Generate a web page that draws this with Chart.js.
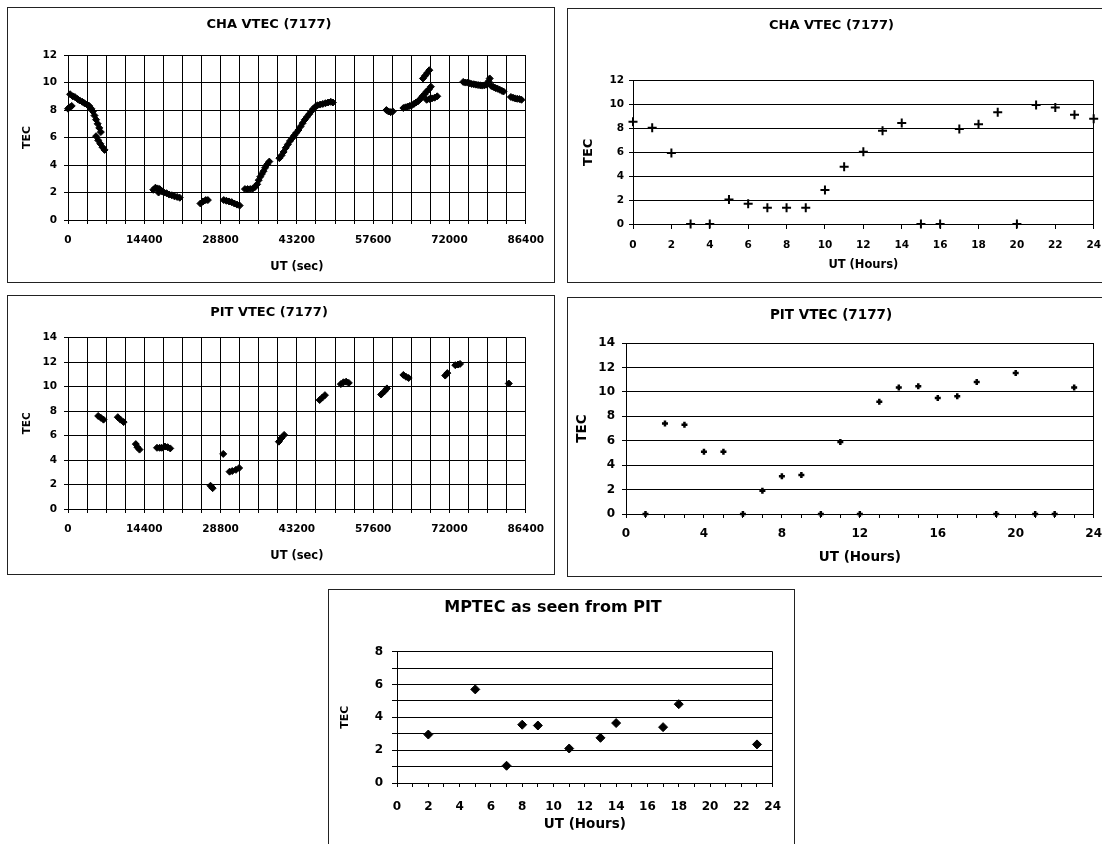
<!DOCTYPE html>
<html>
<head>
<meta charset="utf-8">
<script src="https://cdn.jsdelivr.net/npm/chart.js@4"></script>
<style>
  html, body { margin: 0; padding: 0; background: #fff; }
  body { width: 1102px; height: 844px; overflow: hidden; position: relative; }
  .panel { position: absolute; border: 1px solid #222; box-sizing: border-box; background: #fff; }
  .panel canvas { position: absolute; left: 0; top: 0; }
</style>
</head>
<body>
<div class="panel" style="left:7px;top:7px;width:548px;height:276px"><canvas id="chaSec" width="546" height="274"></canvas></div>
<div class="panel" style="left:567px;top:8px;width:545px;height:275px"><canvas id="chaHour" width="543" height="273"></canvas></div>
<div class="panel" style="left:7px;top:295px;width:548px;height:280px"><canvas id="pitSec" width="546" height="278"></canvas></div>
<div class="panel" style="left:567px;top:297px;width:545px;height:280px"><canvas id="pitHour" width="543" height="278"></canvas></div>
<div class="panel" style="left:328px;top:589px;width:467px;height:270px"><canvas id="mpHour" width="465" height="256"></canvas></div>

<script>
//tick labels
const secTicks = [0, 14400, 28800, 43200, 57600, 72000, 86400];
const hourTicks2 = [0, 2, 4, 6, 8, 10, 12, 14, 16, 18, 20, 22, 24];
const hourTicks4 = [0, 4, 8, 12, 16, 20, 24];
const tecTicks2 = [0, 2, 4, 6, 8, 10, 12, 14];

//CHA VTEC by seconds
const chaSecX = [0, 300, 700, 400, 900, 1300, 1800, 2200, 2700, 3100, 3600, 4000, 4400, 4700, 5000, 5300, 5600, 5900, 6200,
    5300, 5700, 6100, 6500, 6900,
    16100, 16500, 16900, 17100, 17300, 17700, 18100, 18600, 19100, 19600, 20100, 20600, 21100,
    25000, 25500, 26000, 26400,
    29400, 29900, 30400, 30900, 31400, 31900, 32400,
    33400, 33900, 34400, 34900, 35300, 35700, 36000, 36300, 36600, 36900, 37200, 37600, 38000,
    39900, 40300, 40700, 41100, 41500, 41900, 42300, 42700, 43100, 43500, 43900, 44300, 44700, 45100, 45500, 45900,
    46300, 46700, 47100, 47600, 48100, 48600, 49100, 49600, 50000,
    60100, 60500, 60900, 61300,
    63300, 63700, 64100, 64500, 64900, 65300, 65700, 66100, 66500, 66900, 67300, 67700, 68100, 68500,
    67700, 68200, 68700, 69200, 69700, 67000, 67400, 67800, 68200,
    74600, 75000, 75400, 75800, 76200, 76600, 77000, 77400, 77800, 78200, 78600, 79000, 79400, 79600, 79900,
    80300, 80700, 81100, 81500, 81900, 82200,
    83600, 84000, 84400, 84800, 85200, 85600];
const chaSecTec = [8.1, 8.2, 8.3, 9.15, 9.0, 8.95, 8.8, 8.7, 8.6, 8.5, 8.4, 8.3, 8.1, 7.9, 7.6, 7.3, 7.0, 6.7, 6.4,
    6.1, 5.8, 5.55, 5.3, 5.1,
    2.2, 2.35, 2.3, 2.0, 2.25, 2.1, 2.0, 1.95, 1.85, 1.8, 1.72, 1.68, 1.62,
    1.2, 1.35, 1.45, 1.45,
    1.45, 1.4, 1.35, 1.3, 1.2, 1.12, 1.05,
    2.25, 2.25, 2.25, 2.3, 2.4, 2.6, 2.9, 3.15, 3.35, 3.55, 3.8, 4.05, 4.25,
    4.5, 4.7, 4.95, 5.25, 5.5, 5.75, 5.95, 6.15, 6.35, 6.55, 6.8, 7.05, 7.3, 7.5, 7.7, 7.9,
    8.1, 8.25, 8.35, 8.4, 8.45, 8.5, 8.55, 8.6, 8.55,
    8.0, 7.9, 7.85, 7.9,
    8.15, 8.2, 8.25, 8.3, 8.35, 8.45, 8.55, 8.65, 8.8, 9.0, 9.15, 9.35, 9.5, 9.7,
    8.75, 8.8, 8.85, 8.9, 9.0, 10.3, 10.5, 10.7, 10.9,
    10.05, 10.0, 10.0, 9.95, 9.9, 9.88, 9.85, 9.82, 9.8, 9.78, 9.8, 9.85, 10.1, 10.3, 9.75,
    9.68, 9.6, 9.55, 9.48, 9.4, 9.35,
    8.95, 8.9, 8.85, 8.82, 8.8, 8.75];

//CHA VTEC hourly
const chaHours = [0, 1, 2, 3, 4, 5, 6, 7, 8, 9, 10, 11, 12, 13, 14, 15, 16, 17, 18, 19, 20, 21, 22, 23, 24];
const chaHourTec = [8.55, 8.05, 5.95, 0, 0, 2.05, 1.7, 1.35, 1.35, 1.35, 2.85, 4.8, 6.05, 7.8, 8.45, 0, 0, 7.95, 8.35, 9.35, 0, 9.95, 9.75, 9.15, 8.8];

//PIT VTEC by seconds (short clusters)
const pitSecX = [5700, 6200, 6700, 9400, 9900, 10500, 12800, 13100, 13500, 16800, 17300, 17700, 18300, 18800, 19300,
    26900, 27300, 29300, 30500, 31000, 31700, 32300, 39800, 40300, 40800, 47500, 48000, 48500,
    51500, 52000, 52500, 53000, 59100, 59700, 60200, 63300, 63800, 64300, 71200, 71600, 73100, 73600, 74000, 83200];
const pitSecTec = [7.6, 7.45, 7.3, 7.5, 7.3, 7.1, 5.3, 5.05, 4.85, 5.0, 5.0, 5.0, 5.1, 5.05, 4.95,
    1.9, 1.7, 4.5, 3.05, 3.1, 3.2, 3.35, 5.5, 5.8, 6.05, 8.9, 9.1, 9.3,
    10.2, 10.35, 10.4, 10.3, 9.35, 9.6, 9.85, 10.95, 10.8, 10.7, 10.9, 11.1, 11.75, 11.8, 11.85, 10.25];

//PIT VTEC hourly
const pitHours = [1, 2, 3, 4, 5, 6, 7, 8, 9, 10, 11, 12, 13, 14, 15, 16, 17, 18, 19, 20, 21, 22, 23];
const pitHourTec = [0, 7.4, 7.3, 5.1, 5.1, 0, 1.9, 3.1, 3.2, 0, 5.9, 0, 9.2, 10.35, 10.45, 9.5, 9.65, 10.8, 0, 11.55, 0, 0, 10.35];

//MPTEC as seen from PIT
const mpHours = [2, 5, 7, 8, 9, 11, 13, 14, 17, 18, 23];
const mpTec = [2.95, 5.7, 1.05, 3.55, 3.5, 2.1, 2.75, 3.65, 3.4, 4.8, 2.35];
const mpTecTicks = [0, 2, 4, 6, 8];

Chart.defaults.font.family = "'DejaVu Sans', sans-serif";
Chart.defaults.font.weight = 'bold';
Chart.defaults.color = '#000';

function toPoints(xs, ys) {
    return xs.map((x, i) => ({ x: x, y: ys[i] }));
}

//builds one of the five TEC panels
function tecChart(id, c) {
    const edgeOnly = ctx => (ctx.tick && (ctx.tick.value === 0 || ctx.tick.value === c.xMax)) ? '#000' : 'rgba(0,0,0,0)';
    return new Chart(document.getElementById(id), {
        type: 'scatter',
        data: {
            datasets: [{
                data: c.points,
                pointStyle: c.pointStyle,
                radius: c.radius,
                borderWidth: c.pointBorder,
                backgroundColor: '#000',
                borderColor: '#000',
                clip: false
            }]
        },
        options: {
            responsive: false,
            animation: false,
            devicePixelRatio: 1,
            layout: { padding: { left: 0, right: c.padRight, top: 0, bottom: 0 } },
            plugins: {
                legend: { display: false },
                tooltip: { enabled: false },
                title: {
                    display: true,
                    text: c.title,
                    color: '#000',
                    font: { size: c.titleSize, weight: 'bold' },
                    padding: { top: c.titleTop, bottom: c.titleBottom }
                }
            },
            scales: {
                x: {
                    type: 'linear',
                    min: 0,
                    max: c.xMax,
                    afterFit: s => { s.height = c.xHeight; },
                    ticks: {
                        stepSize: c.xStep,
                        autoSkip: false,
                        maxRotation: 0,
                        minRotation: 0,
                        padding: c.xPad,
                        color: '#000',
                        font: { size: c.tickSize, weight: 'bold' },
                        callback: v => c.xLabels.includes(Math.round(v)) ? String(Math.round(v)) : ''
                    },
                    grid: {
                        color: c.fullGrid ? '#000' : edgeOnly,
                        tickColor: '#000',
                        tickLength: c.xTick,
                        lineWidth: 1
                    },
                    border: { color: '#000', width: 1 },
                    title: {
                        display: true,
                        text: c.xTitle,
                        color: '#000',
                        font: { size: c.xTitleSize, weight: 'bold' },
                        padding: { top: 0, bottom: c.xTitlePad }
                    }
                },
                y: {
                    min: 0,
                    max: c.yMax,
                    afterFit: s => { s.width = c.yWidth; },
                    ticks: {
                        stepSize: c.yStep,
                        autoSkip: false,
                        padding: c.yPad,
                        color: '#000',
                        font: { size: c.tickSize, weight: 'bold' },
                        callback: v => c.yLabels.includes(Math.round(v)) ? String(Math.round(v)) : ''
                    },
                    grid: { color: '#000', tickColor: '#000', tickLength: c.yTick, lineWidth: 1 },
                    border: { color: '#000', width: 1 },
                    title: {
                        display: true,
                        text: 'TEC',
                        color: '#000',
                        font: { size: c.yTitleSize, weight: 'bold' },
                        padding: { top: c.yTitlePad, bottom: 0 }
                    }
                }
            }
        }
    });
}

tecChart('chaSec', {
    points: toPoints(chaSecX, chaSecTec), pointStyle: 'rectRot', radius: 3.5, pointBorder: 1,
    title: 'CHA VTEC (7177)', titleSize: 13, titleTop: 9, titleBottom: 22.5, padRight: 24,
    xMax: 86400, xStep: 3600, xLabels: secTicks, xHeight: 62, xTick: 4, xPad: 10, fullGrid: true,
    xTitle: 'UT (sec)', xTitleSize: 11.5, xTitlePad: 8,
    yMax: 12, yStep: 2, yLabels: tecTicks2, yWidth: 60, yTick: 4, yPad: 7, yTitleSize: 11, yTitlePad: 12.5,
    tickSize: 10.5
});

tecChart('chaHour', {
    points: toPoints(chaHours, chaHourTec), pointStyle: 'cross', radius: 4.5, pointBorder: 2,
    title: 'CHA VTEC (7177)', titleSize: 13, titleTop: 9, titleBottom: 47, padRight: 16,
    xMax: 24, xStep: 2, xLabels: hourTicks2, xHeight: 58, xTick: 5, xPad: 10, fullGrid: false,
    xTitle: 'UT (Hours)', xTitleSize: 11.5, xTitlePad: 10,
    yMax: 12, yStep: 2, yLabels: tecTicks2, yWidth: 65, yTick: 4, yPad: 5, yTitleSize: 13, yTitlePad: 13,
    tickSize: 10.5
});

tecChart('pitSec', {
    points: toPoints(pitSecX, pitSecTec), pointStyle: 'rectRot', radius: 3.5, pointBorder: 1,
    title: 'PIT VTEC (7177)', titleSize: 13, titleTop: 9, titleBottom: 17, padRight: 24,
    xMax: 86400, xStep: 3600, xLabels: secTicks, xHeight: 65, xTick: 4, xPad: 10, fullGrid: true,
    xTitle: 'UT (sec)', xTitleSize: 11.5, xTitlePad: 11,
    yMax: 14, yStep: 2, yLabels: tecTicks2, yWidth: 60, yTick: 4, yPad: 7, yTitleSize: 10.5, yTitlePad: 12.5,
    tickSize: 10.5
});

tecChart('pitHour', {
    points: toPoints(pitHours, pitHourTec), pointStyle: 'cross', radius: 3, pointBorder: 2.5,
    title: 'PIT VTEC (7177)', titleSize: 13.5, titleTop: 9.4, titleBottom: 19.4, padRight: 17,
    xMax: 24, xStep: 1, xLabels: hourTicks4, xHeight: 62, xTick: 4, xPad: 9, fullGrid: false,
    xTitle: 'UT (Hours)', xTitleSize: 13.5, xTitlePad: 10,
    yMax: 14, yStep: 2, yLabels: tecTicks2, yWidth: 58, yTick: 4, yPad: 7, yTitleSize: 13.5, yTitlePad: 6.5,
    tickSize: 12
});

tecChart('mpHour', {
    points: toPoints(mpHours, mpTec), pointStyle: 'rectRot', radius: 4.5, pointBorder: 1,
    title: 'MPTEC as seen from PIT', titleSize: 16, titleTop: 8.4, titleBottom: 34, padRight: 17,
    xMax: 24, xStep: 1, xLabels: hourTicks2, xHeight: 63, xTick: 4, xPad: 13, fullGrid: false,
    xTitle: 'UT (Hours)', xTitleSize: 13.5, xTitlePad: 13,
    yMax: 8, yStep: 1, yLabels: mpTecTicks, yWidth: 68, yTick: 5, yPad: 9, yTitleSize: 11, yTitlePad: 9.5,
    tickSize: 12
});
</script>
</body>
</html>
